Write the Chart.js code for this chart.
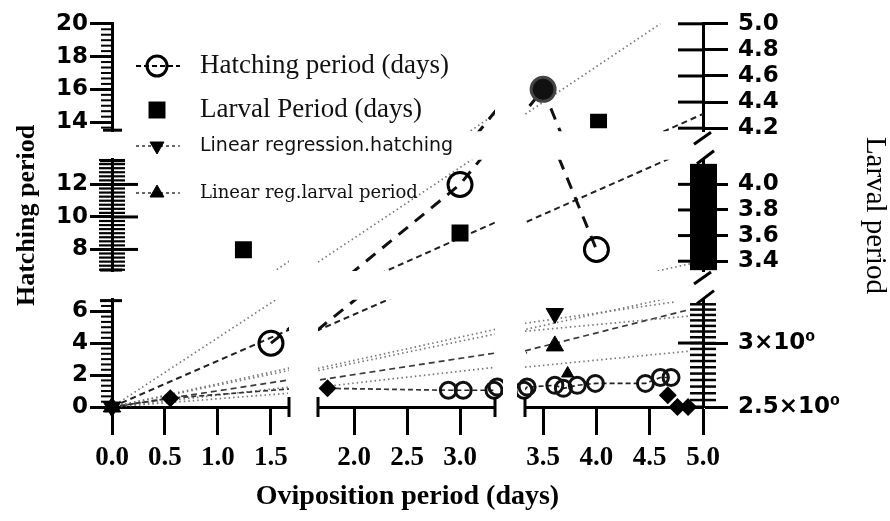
<!DOCTYPE html>
<html>
<head>
<meta charset="utf-8">
<title>Oviposition period vs hatching and larval period</title>
<script src="https://cdn.jsdelivr.net/npm/chart.js@4/dist/chart.umd.min.js"></script>
<style>
  html, body { margin: 0; padding: 0; background: #fff; }
</style>
</head>
<body>
<canvas id="chart" width="890" height="521"></canvas>
<script>
// ---- values --------------------------------------------------------
// hatching period (days), left axis
const hatchX = [1.5, 3.0, 3.5, 4.0];
const hatchY = [4, 12, 16, 8];
// larval period (days), right axis
const larvalX = [1.24, 3.0, 4.02];
const larvalY = [3.49, 3.62, 4.245];
// small open circles along the x axis
const lowX = [2.89, 3.03, 3.32, 3.35, 3.61, 3.69, 3.82, 3.99, 4.46, 4.6, 4.7];
const lowY = [1.05, 1.05, 1.05, 1.25, 1.36, 1.17, 1.36, 1.48, 1.48, 1.85, 1.85];
// filled diamonds
const diaX = [0.55, 1.75, 4.67, 4.76, 4.86];
const diaY = [0.55, 1.17, 0.74, 0, 0];
// dashed path from the origin through the first diamonds
const pathX = [0, 0.55, 1.75, 2.89];
const pathY = [0, 0.55, 1.17, 1.05];
// regression markers
const regHatchX = [0, 3.61];
const regHatchY = [0, 5.86];
const regLarvX = [0, 3.61, 3.73];
const regLarvY = [0, 3.83, 2.1];
// fitted lines: start and end points
const fitX0 = [0, 0, 0, 0, 0, 0, 0, 3.33, 3.33, 3.33, 3.33];
const fitY0 = [0, 0, 0, 0, 0, 0, 0, 5.25, 4.75, 3.52, 2.5];
const fitX1 = [4.6, 5.0, 4.9, 3.35, 3.35, 3.35, 1.66, 4.75, 4.87, 4.87, 4.87];
const fitY1 = [20, 14.5, 7.15, 4.6, 3.4, 2.5, 0.86, 6.6, 5.7, 6.1, 3.5];

// ---- ticks and text ------------------------------------------------
const xTicks = [[0, 0.5, 1.0, 1.5], [2.0, 2.5, 3.0], [3.5, 4.0, 4.5, 5.0]];
const leftTicks = [[0, 2, 4, 6], [8, 10, 12], [14, 16, 18, 20]];
const rightTicks = [[2.5, 3], [3.4, 3.6, 3.8, 4.0], [4.2, 4.4, 4.6, 4.8, 5.0]];
const rightLogLabels = ['2.5×10⁰', '3×10⁰'];
const legendText = ['Hatching period (days)', 'Larval Period (days)', 'Linear regression.hatching', 'Linear reg.larval period'];
const xTitle = 'Oviposition period (days)';
const leftTitle = 'Hatching period';
const rightTitle = 'Larval period';

// ---- broken axes: three panels each way ----------------------------
const xIds = ['x1', 'x2', 'x3'];
const leftIds = ['yB', 'yM', 'yT'];
const rightIds = ['rB', 'rM', 'rT'];
const xRanges = [[0, 1.67], [1.66, 3.33], [3.33, 5.0]];
const leftRanges = [[0, 6.73], [6.67, 13.52], [13.45, 20]];
const rightRanges = [[2.5, 3.395], [3.323, 4.192], [4.177, 5.0]];
const xSpan = [177, 177, 178], xGap = [29, 30];
const ySpan = [109, 113, 109], yGap = 29;

const black = '#000';
const gridOpts = len => ({ drawOnChartArea: false, drawTicks: true, tickLength: len, tickWidth: 3, tickColor: black });
const borderOpts = { display: true, width: 3, color: black };
const sansBold = size => ({ family: 'DejaVu Sans', weight: 'bold', size: size });

const scales = {};
xIds.forEach((id, i) => {
  scales[id] = {
    type: 'linear', axis: 'x', position: 'bottom', stack: 'xs', stackWeight: xSpan[i], weight: 2 * i,
    min: xRanges[i][0], max: xRanges[i][1], bounds: 'data',
    afterFit: sc => { sc.height = 76; },
    afterBuildTicks: sc => { sc.ticks = xTicks[i].map(v => ({ value: v })); },
    grid: gridOpts(28), border: borderOpts,
    ticks: {
      autoSkip: false, maxRotation: 0, padding: 7, color: black,
      font: { family: 'Liberation Serif', weight: 'bold', size: 27 },
      callback: v => Number(v).toFixed(1)
    }
  };
  if (i < 2) scales['gx' + i] = { type: 'linear', axis: 'x', position: 'bottom', stack: 'xs', stackWeight: xGap[i], weight: 2 * i + 1, display: false };
});

leftIds.forEach((id, i) => {
  scales[id] = {
    type: 'linear', axis: 'y', position: 'left', stack: 'ls', stackWeight: ySpan[i], weight: 2 * i,
    min: leftRanges[i][0], max: leftRanges[i][1], bounds: 'data',
    afterFit: sc => { sc.width = 112; },
    afterBuildTicks: sc => { sc.ticks = leftTicks[i].map(v => ({ value: v })); },
    grid: gridOpts(22), border: borderOpts,
    ticks: { autoSkip: false, padding: 2, color: black, font: sansBold(23), callback: v => String(v) },
    title: {
      display: i === 1, text: leftTitle, color: black,
      font: { family: 'Liberation Serif', weight: 'bold', size: 26, lineHeight: 1 },
      padding: { top: 14, bottom: 0 }
    }
  };
  if (i < 2) scales['gl' + i] = { type: 'linear', axis: 'y', position: 'left', stack: 'ls', stackWeight: yGap, weight: 2 * i + 1, display: false };
});

rightIds.forEach((id, i) => {
  scales[id] = {
    type: i === 0 ? 'logarithmic' : 'linear', axis: 'y', position: 'right', stack: 'rs', stackWeight: ySpan[i], weight: 4 - 2 * i,
    min: rightRanges[i][0], max: rightRanges[i][1], bounds: 'data',
    afterFit: sc => { sc.width = 187; },
    afterBuildTicks: sc => { sc.ticks = rightTicks[i].map(v => ({ value: v })); },
    grid: gridOpts(25), border: borderOpts,
    ticks: {
      autoSkip: false, padding: 10, color: black, font: sansBold(23),
      callback: v => i === 0 ? rightLogLabels[rightTicks[0].indexOf(v)] : Number(v).toFixed(1)
    },
    title: {
      display: i === 1, text: rightTitle, color: black,
      font: { family: 'Liberation Serif', size: 29, lineHeight: 1 },
      padding: { top: 1, bottom: 0 }
    }
  };
  if (i < 2) scales['gr' + i] = { type: 'linear', axis: 'y', position: 'right', stack: 'rs', stackWeight: yGap, weight: 3 - 2 * i, display: false };
});

// ---- datasets: every series is repeated in each panel, clipped there
const pts = (xs, ys) => xs.map((x, i) => ({ x: x, y: ys[i] }));
const datasets = [];
function spread(base, side, pad) {
  const yIds = side === 'right' ? rightIds : leftIds;
  xIds.forEach(xa => yIds.forEach(ya => {
    datasets.push(Object.assign({}, base, {
      data: base.data.map(p => ({ x: p.x, y: p.y })),
      xAxisID: xa, yAxisID: ya,
      clip: {
        left: xa === 'x1' ? 14 : pad, right: xa === 'x3' ? 14 : pad,
        top: ya === yIds[2] ? 14 : pad, bottom: ya === yIds[0] ? 14 : pad
      }
    }));
  }));
}

const fitDashed = [false, true, false, false, true, false, false, false, false, true, false];
fitX0.forEach((x0, i) => {
  spread({
    label: 'fit ' + i, order: 10,
    data: [{ x: x0, y: fitY0[i] }, { x: fitX1[i], y: fitY1[i] }],
    showLine: true, pointRadius: 0,
    borderColor: fitDashed[i] ? (i === 1 ? '#222' : '#3a3a3a') : '#777',
    borderWidth: i === 1 ? 2 : 1.7,
    borderDash: fitDashed[i] ? [6, 4] : [1.5, 3]
  }, 'left', 0);
});

spread({ label: 'path', order: 9, data: pts(pathX, pathY), showLine: true, pointRadius: 0,
  borderColor: '#333', borderWidth: 1.7, borderDash: [5, 3] }, 'left', 0);
spread({ label: 'low line', order: 9, data: pts(lowX, lowY), showLine: true, pointRadius: 0,
  borderColor: '#222', borderWidth: 1.7, borderDash: [5, 3] }, 'left', 0);
spread({ label: 'hatch line', order: 8, data: pts(hatchX, hatchY), showLine: true, pointRadius: 0,
  borderColor: '#111', borderWidth: 3, borderDash: [12, 9] }, 'left', 0);

spread({ label: 'low', order: 1, data: pts(lowX, lowY), pointRadius: 8, pointBorderWidth: 3,
  pointBorderColor: '#111', pointBackgroundColor: 'rgba(255,255,255,0)' }, 'left', 8);
spread({ label: 'diamonds', order: 1, data: pts(diaX, diaY), pointStyle: 'rectRot', pointRadius: 9,
  pointBorderWidth: 0, pointBackgroundColor: '#000' }, 'left', 0);
spread({ label: legendText[0], order: 0, data: pts(hatchX, hatchY), pointRadius: 12, pointBorderWidth: 3,
  pointBorderColor: ['#000', '#000', '#444', '#000'],
  pointBackgroundColor: ['rgba(255,255,255,0)', 'rgba(255,255,255,0)', '#111', 'rgba(255,255,255,0)'] }, 'left', 2);
spread({ label: legendText[1], order: 0, data: pts(larvalX, larvalY), pointStyle: 'rect', pointRadius: 12,
  pointBorderWidth: 0, pointBackgroundColor: '#000' }, 'right', -3);
spread({ label: legendText[2], order: 0, data: pts(regHatchX, regHatchY), pointStyle: 'triangle', pointRadius: 10,
  pointRotation: 180, pointBorderWidth: 1, pointBorderColor: '#000', pointBackgroundColor: '#000' }, 'left', 0);
spread({ label: legendText[3], order: 0, data: pts(regLarvX, regLarvY), pointStyle: 'triangle', pointRadius: [10, 10, 7],
  pointBorderWidth: 1, pointBorderColor: '#000', pointBackgroundColor: '#000' }, 'left', 0);

// ---- axis extras: minor ticks, caps and break marks -----------------
const axisDecor = {
  id: 'axisDecor',
  afterDraw(chart) {
    const ctx = chart.ctx, s = chart.scales;
    const seg = (x0, y0, x1, y1, w) => { ctx.lineWidth = w; ctx.beginPath(); ctx.moveTo(x0, y0); ctx.lineTo(x1, y1); ctx.stroke(); };
    ctx.save();
    ctx.strokeStyle = black; ctx.fillStyle = black; ctx.lineCap = 'butt';

    // left axis
    const lx = s.yB.right;
    ['yB', 'yT'].forEach(id => {
      const sc = s[id];
      for (let k = Math.ceil(sc.min * 3); k <= sc.max * 3; k++) {
        const y = sc.getPixelForValue(k / 3);
        seg(lx - 11, y, lx, y, 2);
      }
    });
    const ym = s.yM;
    for (let k = Math.ceil(ym.min * 4); k <= ym.max * 4; k++) {
      const y = ym.getPixelForValue(k / 4);
      seg(lx - 13, y, lx + 13, y, 2.2);
    }
    leftTicks[1].forEach(v => { const y = ym.getPixelForValue(v); seg(lx, y, lx + 26, y, 3); });
    seg(lx - 12, s.yB.top + 1, lx + 10, s.yB.top + 1, 3);
    seg(lx - 12, ym.top + 1, lx + 13, ym.top + 1, 3);
    seg(lx - 12, ym.bottom - 1, lx + 10, ym.bottom - 1, 3);
    seg(lx - 9, s.yT.bottom - 1, lx + 10, s.yT.bottom - 1, 3);

    // right axis
    const rx = s.rB.left;
    rightIds.forEach((id, i) => {
      rightTicks[i].forEach(v => { const y = s[id].getPixelForValue(v); seg(rx - 25, y, rx, y, 3); });
    });
    const rm = s.rM;
    const barTop = rm.getPixelForValue(4.16), barBot = rm.getPixelForValue(3.33);
    ctx.fillRect(rx - 13, barTop, 27, barBot - barTop);
    for (let k = 51; k <= 67; k++) {
      const y = s.rB.getPixelForValue(k / 20);
      seg(rx - 13, y, rx + 13, y, 2.5);
    }
    [['rT', 'rM'], ['rM', 'rB']].forEach(([a, b]) => {
      const bot = s[a].bottom, top = s[b].top;
      seg(rx - 9, bot + 13, rx + 8, bot + 1, 3);
      seg(rx - 6, top + 4, rx + 11, top - 9, 3);
    });

    // x axis end caps
    const xy = s.x1.top;
    [s.x1.right, s.x2.left, s.x2.right, s.x3.left].forEach(x => seg(x, xy - 10, x, xy + 10, 3));
    ctx.restore();
  }
};

// ---- legend, drawn inside the top-left panel ------------------------
const legendBox = {
  id: 'legendBox',
  afterDraw(chart) {
    const ctx = chart.ctx, mx = 157, tx = 200;
    const rowY = [66, 110, 146, 193];
    const rowFont = ['27px "Liberation Serif"', '27px "Liberation Serif"', '19px "DejaVu Sans"', '18px "DejaVu Serif"'];
    const marks = [
      { pointStyle: 'circle', radius: 10, rotation: 0, borderWidth: 3, fill: 'rgba(255,255,255,0)', dash: [5, 3], lw: 2 },
      { pointStyle: 'rect', radius: 12, rotation: 0, borderWidth: 0, fill: '#000', dash: null },
      { pointStyle: 'triangle', radius: 8, rotation: 180, borderWidth: 1, fill: '#000', dash: [3, 3], lw: 1.2 },
      { pointStyle: 'triangle', radius: 8, rotation: 0, borderWidth: 1, fill: '#000', dash: [3, 3], lw: 1.2 }
    ];
    ctx.save();
    legendText.forEach((t, i) => {
      const m = marks[i], y = rowY[i];
      ctx.strokeStyle = black;
      if (m.dash) {
        ctx.setLineDash(m.dash); ctx.lineWidth = m.lw;
        ctx.beginPath(); ctx.moveTo(136, y); ctx.lineTo(180, y); ctx.stroke();
        ctx.setLineDash([]);
      }
      ctx.fillStyle = m.fill; ctx.lineWidth = m.borderWidth;
      Chart.helpers.drawPoint(ctx, m, mx, y);
      ctx.fillStyle = '#111'; ctx.font = rowFont[i];
      ctx.textBaseline = 'middle'; ctx.textAlign = 'left';
      ctx.fillText(t, tx, y);
    });
    ctx.restore();
  }
};

new Chart(document.getElementById('chart'), {
  type: 'scatter',
  data: { datasets: datasets },
  options: {
    responsive: false,
    animation: false,
    events: [],
    layout: { autoPadding: false, padding: { top: 18, left: 0, right: 0, bottom: 0 } },
    scales: scales,
    plugins: {
      legend: { display: false },
      tooltip: { enabled: false },
      title: {
        display: true, text: xTitle, position: 'bottom', fullSize: false, color: black,
        font: { family: 'Liberation Serif', weight: 'bold', size: 28, lineHeight: 1 },
        padding: { top: 0, bottom: 10 }
      }
    }
  },
  plugins: [axisDecor, legendBox]
});
</script>
</body>
</html>
